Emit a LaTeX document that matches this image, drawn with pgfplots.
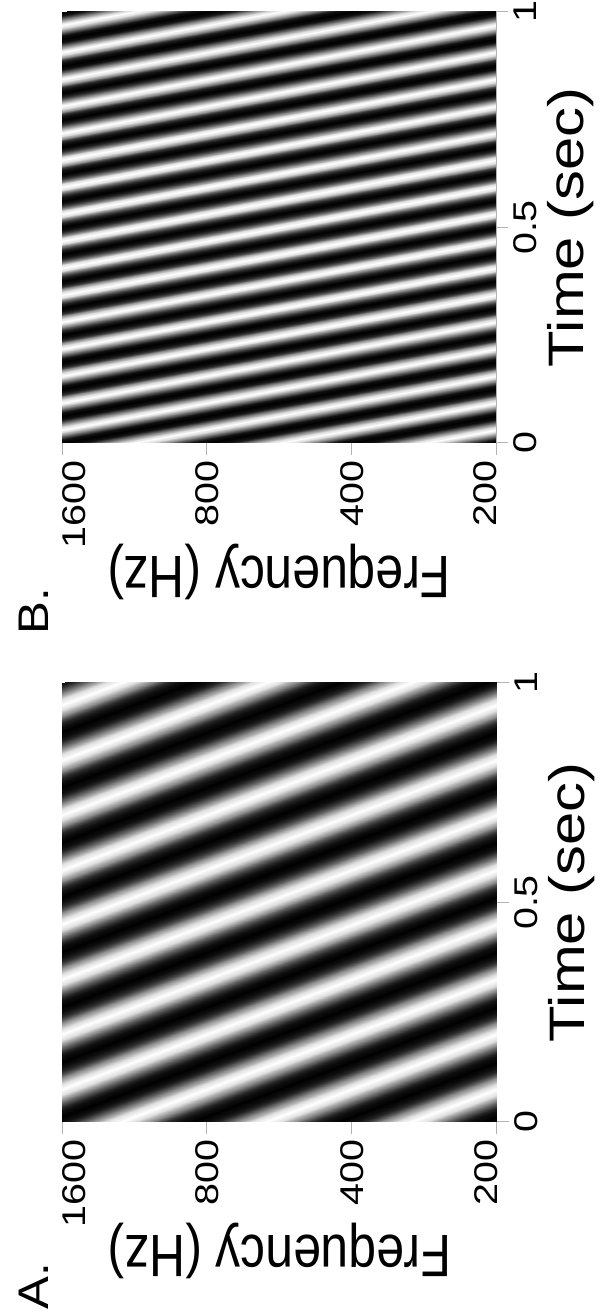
\documentclass[border=0pt]{standalone}
\usepackage{fontspec}
\setmainfont{Liberation Sans}
\usepackage{pgfplots}
\usepackage{pgfplotstable}
\pgfplotsset{compat=1.18}

% Panel A: lines of constant ripple phase (x = octave index from 1600 Hz, t = time, c = level)
\pgfplotstableread[row sep=\\]{
x t c \\
0 -0.375 -0.809 \\ 3 0 -0.809 \\
0 -0.3625 -1 \\ 3 0.0125 -1 \\
0 -0.35 -0.809 \\ 3 0.025 -0.809 \\
0 -0.3375 -0.309 \\ 3 0.0375 -0.309 \\
0 -0.325 0.309 \\ 3 0.05 0.309 \\
0 -0.3125 0.809 \\ 3 0.0625 0.809 \\
0 -0.3 1 \\ 3 0.075 1 \\
0 -0.2875 0.809 \\ 3 0.0875 0.809 \\
0 -0.275 0.309 \\ 3 0.1 0.309 \\
0 -0.2625 -0.309 \\ 3 0.1125 -0.309 \\
0 -0.25 -0.809 \\ 3 0.125 -0.809 \\
0 -0.2375 -1 \\ 3 0.1375 -1 \\
0 -0.225 -0.809 \\ 3 0.15 -0.809 \\
0 -0.2125 -0.309 \\ 3 0.1625 -0.309 \\
0 -0.2 0.309 \\ 3 0.175 0.309 \\
0 -0.1875 0.809 \\ 3 0.1875 0.809 \\
0 -0.175 1 \\ 3 0.2 1 \\
0 -0.1625 0.809 \\ 3 0.2125 0.809 \\
0 -0.15 0.309 \\ 3 0.225 0.309 \\
0 -0.1375 -0.309 \\ 3 0.2375 -0.309 \\
0 -0.125 -0.809 \\ 3 0.25 -0.809 \\
0 -0.1125 -1 \\ 3 0.2625 -1 \\
0 -0.1 -0.809 \\ 3 0.275 -0.809 \\
0 -0.0875 -0.309 \\ 3 0.2875 -0.309 \\
0 -0.075 0.309 \\ 3 0.3 0.309 \\
0 -0.0625 0.809 \\ 3 0.3125 0.809 \\
0 -0.05 1 \\ 3 0.325 1 \\
0 -0.0375 0.809 \\ 3 0.3375 0.809 \\
0 -0.025 0.309 \\ 3 0.35 0.309 \\
0 -0.0125 -0.309 \\ 3 0.3625 -0.309 \\
0 0 -0.809 \\ 3 0.375 -0.809 \\
0 0.0125 -1 \\ 3 0.3875 -1 \\
0 0.025 -0.809 \\ 3 0.4 -0.809 \\
0 0.0375 -0.309 \\ 3 0.4125 -0.309 \\
0 0.05 0.309 \\ 3 0.425 0.309 \\
0 0.0625 0.809 \\ 3 0.4375 0.809 \\
0 0.075 1 \\ 3 0.45 1 \\
0 0.0875 0.809 \\ 3 0.4625 0.809 \\
0 0.1 0.309 \\ 3 0.475 0.309 \\
0 0.1125 -0.309 \\ 3 0.4875 -0.309 \\
0 0.125 -0.809 \\ 3 0.5 -0.809 \\
0 0.1375 -1 \\ 3 0.5125 -1 \\
0 0.15 -0.809 \\ 3 0.525 -0.809 \\
0 0.1625 -0.309 \\ 3 0.5375 -0.309 \\
0 0.175 0.309 \\ 3 0.55 0.309 \\
0 0.1875 0.809 \\ 3 0.5625 0.809 \\
0 0.2 1 \\ 3 0.575 1 \\
0 0.2125 0.809 \\ 3 0.5875 0.809 \\
0 0.225 0.309 \\ 3 0.6 0.309 \\
0 0.2375 -0.309 \\ 3 0.6125 -0.309 \\
0 0.25 -0.809 \\ 3 0.625 -0.809 \\
0 0.2625 -1 \\ 3 0.6375 -1 \\
0 0.275 -0.809 \\ 3 0.65 -0.809 \\
0 0.2875 -0.309 \\ 3 0.6625 -0.309 \\
0 0.3 0.309 \\ 3 0.675 0.309 \\
0 0.3125 0.809 \\ 3 0.6875 0.809 \\
0 0.325 1 \\ 3 0.7 1 \\
0 0.3375 0.809 \\ 3 0.7125 0.809 \\
0 0.35 0.309 \\ 3 0.725 0.309 \\
0 0.3625 -0.309 \\ 3 0.7375 -0.309 \\
0 0.375 -0.809 \\ 3 0.75 -0.809 \\
0 0.3875 -1 \\ 3 0.7625 -1 \\
0 0.4 -0.809 \\ 3 0.775 -0.809 \\
0 0.4125 -0.309 \\ 3 0.7875 -0.309 \\
0 0.425 0.309 \\ 3 0.8 0.309 \\
0 0.4375 0.809 \\ 3 0.8125 0.809 \\
0 0.45 1 \\ 3 0.825 1 \\
0 0.4625 0.809 \\ 3 0.8375 0.809 \\
0 0.475 0.309 \\ 3 0.85 0.309 \\
0 0.4875 -0.309 \\ 3 0.8625 -0.309 \\
0 0.5 -0.809 \\ 3 0.875 -0.809 \\
0 0.5125 -1 \\ 3 0.8875 -1 \\
0 0.525 -0.809 \\ 3 0.9 -0.809 \\
0 0.5375 -0.309 \\ 3 0.9125 -0.309 \\
0 0.55 0.309 \\ 3 0.925 0.309 \\
0 0.5625 0.809 \\ 3 0.9375 0.809 \\
0 0.575 1 \\ 3 0.95 1 \\
0 0.5875 0.809 \\ 3 0.9625 0.809 \\
0 0.6 0.309 \\ 3 0.975 0.309 \\
0 0.6125 -0.309 \\ 3 0.9875 -0.309 \\
0 0.625 -0.809 \\ 3 1 -0.809 \\
0 0.6375 -1 \\ 3 1.0125 -1 \\
0 0.65 -0.809 \\ 3 1.025 -0.809 \\
0 0.6625 -0.309 \\ 3 1.0375 -0.309 \\
0 0.675 0.309 \\ 3 1.05 0.309 \\
0 0.6875 0.809 \\ 3 1.0625 0.809 \\
0 0.7 1 \\ 3 1.075 1 \\
0 0.7125 0.809 \\ 3 1.0875 0.809 \\
0 0.725 0.309 \\ 3 1.1 0.309 \\
0 0.7375 -0.309 \\ 3 1.1125 -0.309 \\
0 0.75 -0.809 \\ 3 1.125 -0.809 \\
0 0.7625 -1 \\ 3 1.1375 -1 \\
0 0.775 -0.809 \\ 3 1.15 -0.809 \\
0 0.7875 -0.309 \\ 3 1.1625 -0.309 \\
0 0.8 0.309 \\ 3 1.175 0.309 \\
0 0.8125 0.809 \\ 3 1.1875 0.809 \\
0 0.825 1 \\ 3 1.2 1 \\
0 0.8375 0.809 \\ 3 1.2125 0.809 \\
0 0.85 0.309 \\ 3 1.225 0.309 \\
0 0.8625 -0.309 \\ 3 1.2375 -0.309 \\
0 0.875 -0.809 \\ 3 1.25 -0.809 \\
0 0.8875 -1 \\ 3 1.2625 -1 \\
0 0.9 -0.809 \\ 3 1.275 -0.809 \\
0 0.9125 -0.309 \\ 3 1.2875 -0.309 \\
0 0.925 0.309 \\ 3 1.3 0.309 \\
0 0.9375 0.809 \\ 3 1.3125 0.809 \\
0 0.95 1 \\ 3 1.325 1 \\
0 0.9625 0.809 \\ 3 1.3375 0.809 \\
0 0.975 0.309 \\ 3 1.35 0.309 \\
0 0.9875 -0.309 \\ 3 1.3625 -0.309 \\
0 1 -0.809 \\ 3 1.375 -0.809 \\
}\dataA

% Panel B
\pgfplotstableread[row sep=\\]{
x t c \\
0 -0.1875 -1 \\ 3 0 -1 \\
0 -0.18125 -0.809 \\ 3 0.00625 -0.809 \\
0 -0.175 -0.309 \\ 3 0.0125 -0.309 \\
0 -0.16875 0.309 \\ 3 0.01875 0.309 \\
0 -0.1625 0.809 \\ 3 0.025 0.809 \\
0 -0.15625 1 \\ 3 0.03125 1 \\
0 -0.15 0.809 \\ 3 0.0375 0.809 \\
0 -0.14375 0.309 \\ 3 0.04375 0.309 \\
0 -0.1375 -0.309 \\ 3 0.05 -0.309 \\
0 -0.13125 -0.809 \\ 3 0.05625 -0.809 \\
0 -0.125 -1 \\ 3 0.0625 -1 \\
0 -0.11875 -0.809 \\ 3 0.06875 -0.809 \\
0 -0.1125 -0.309 \\ 3 0.075 -0.309 \\
0 -0.10625 0.309 \\ 3 0.08125 0.309 \\
0 -0.1 0.809 \\ 3 0.0875 0.809 \\
0 -0.09375 1 \\ 3 0.09375 1 \\
0 -0.0875 0.809 \\ 3 0.1 0.809 \\
0 -0.08125 0.309 \\ 3 0.10625 0.309 \\
0 -0.075 -0.309 \\ 3 0.1125 -0.309 \\
0 -0.06875 -0.809 \\ 3 0.11875 -0.809 \\
0 -0.0625 -1 \\ 3 0.125 -1 \\
0 -0.05625 -0.809 \\ 3 0.13125 -0.809 \\
0 -0.05 -0.309 \\ 3 0.1375 -0.309 \\
0 -0.04375 0.309 \\ 3 0.14375 0.309 \\
0 -0.0375 0.809 \\ 3 0.15 0.809 \\
0 -0.03125 1 \\ 3 0.15625 1 \\
0 -0.025 0.809 \\ 3 0.1625 0.809 \\
0 -0.01875 0.309 \\ 3 0.16875 0.309 \\
0 -0.0125 -0.309 \\ 3 0.175 -0.309 \\
0 -0.00625 -0.809 \\ 3 0.18125 -0.809 \\
0 0 -1 \\ 3 0.1875 -1 \\
0 0.00625 -0.809 \\ 3 0.19375 -0.809 \\
0 0.0125 -0.309 \\ 3 0.2 -0.309 \\
0 0.01875 0.309 \\ 3 0.20625 0.309 \\
0 0.025 0.809 \\ 3 0.2125 0.809 \\
0 0.03125 1 \\ 3 0.21875 1 \\
0 0.0375 0.809 \\ 3 0.225 0.809 \\
0 0.04375 0.309 \\ 3 0.23125 0.309 \\
0 0.05 -0.309 \\ 3 0.2375 -0.309 \\
0 0.05625 -0.809 \\ 3 0.24375 -0.809 \\
0 0.0625 -1 \\ 3 0.25 -1 \\
0 0.06875 -0.809 \\ 3 0.25625 -0.809 \\
0 0.075 -0.309 \\ 3 0.2625 -0.309 \\
0 0.08125 0.309 \\ 3 0.26875 0.309 \\
0 0.0875 0.809 \\ 3 0.275 0.809 \\
0 0.09375 1 \\ 3 0.28125 1 \\
0 0.1 0.809 \\ 3 0.2875 0.809 \\
0 0.10625 0.309 \\ 3 0.29375 0.309 \\
0 0.1125 -0.309 \\ 3 0.3 -0.309 \\
0 0.11875 -0.809 \\ 3 0.30625 -0.809 \\
0 0.125 -1 \\ 3 0.3125 -1 \\
0 0.13125 -0.809 \\ 3 0.31875 -0.809 \\
0 0.1375 -0.309 \\ 3 0.325 -0.309 \\
0 0.14375 0.309 \\ 3 0.33125 0.309 \\
0 0.15 0.809 \\ 3 0.3375 0.809 \\
0 0.15625 1 \\ 3 0.34375 1 \\
0 0.1625 0.809 \\ 3 0.35 0.809 \\
0 0.16875 0.309 \\ 3 0.35625 0.309 \\
0 0.175 -0.309 \\ 3 0.3625 -0.309 \\
0 0.18125 -0.809 \\ 3 0.36875 -0.809 \\
0 0.1875 -1 \\ 3 0.375 -1 \\
0 0.19375 -0.809 \\ 3 0.38125 -0.809 \\
0 0.2 -0.309 \\ 3 0.3875 -0.309 \\
0 0.20625 0.309 \\ 3 0.39375 0.309 \\
0 0.2125 0.809 \\ 3 0.4 0.809 \\
0 0.21875 1 \\ 3 0.40625 1 \\
0 0.225 0.809 \\ 3 0.4125 0.809 \\
0 0.23125 0.309 \\ 3 0.41875 0.309 \\
0 0.2375 -0.309 \\ 3 0.425 -0.309 \\
0 0.24375 -0.809 \\ 3 0.43125 -0.809 \\
0 0.25 -1 \\ 3 0.4375 -1 \\
0 0.25625 -0.809 \\ 3 0.44375 -0.809 \\
0 0.2625 -0.309 \\ 3 0.45 -0.309 \\
0 0.26875 0.309 \\ 3 0.45625 0.309 \\
0 0.275 0.809 \\ 3 0.4625 0.809 \\
0 0.28125 1 \\ 3 0.46875 1 \\
0 0.2875 0.809 \\ 3 0.475 0.809 \\
0 0.29375 0.309 \\ 3 0.48125 0.309 \\
0 0.3 -0.309 \\ 3 0.4875 -0.309 \\
0 0.30625 -0.809 \\ 3 0.49375 -0.809 \\
0 0.3125 -1 \\ 3 0.5 -1 \\
0 0.31875 -0.809 \\ 3 0.50625 -0.809 \\
0 0.325 -0.309 \\ 3 0.5125 -0.309 \\
0 0.33125 0.309 \\ 3 0.51875 0.309 \\
0 0.3375 0.809 \\ 3 0.525 0.809 \\
0 0.34375 1 \\ 3 0.53125 1 \\
0 0.35 0.809 \\ 3 0.5375 0.809 \\
0 0.35625 0.309 \\ 3 0.54375 0.309 \\
0 0.3625 -0.309 \\ 3 0.55 -0.309 \\
0 0.36875 -0.809 \\ 3 0.55625 -0.809 \\
0 0.375 -1 \\ 3 0.5625 -1 \\
0 0.38125 -0.809 \\ 3 0.56875 -0.809 \\
0 0.3875 -0.309 \\ 3 0.575 -0.309 \\
0 0.39375 0.309 \\ 3 0.58125 0.309 \\
0 0.4 0.809 \\ 3 0.5875 0.809 \\
0 0.40625 1 \\ 3 0.59375 1 \\
0 0.4125 0.809 \\ 3 0.6 0.809 \\
0 0.41875 0.309 \\ 3 0.60625 0.309 \\
0 0.425 -0.309 \\ 3 0.6125 -0.309 \\
0 0.43125 -0.809 \\ 3 0.61875 -0.809 \\
0 0.4375 -1 \\ 3 0.625 -1 \\
0 0.44375 -0.809 \\ 3 0.63125 -0.809 \\
0 0.45 -0.309 \\ 3 0.6375 -0.309 \\
0 0.45625 0.309 \\ 3 0.64375 0.309 \\
0 0.4625 0.809 \\ 3 0.65 0.809 \\
0 0.46875 1 \\ 3 0.65625 1 \\
0 0.475 0.809 \\ 3 0.6625 0.809 \\
0 0.48125 0.309 \\ 3 0.66875 0.309 \\
0 0.4875 -0.309 \\ 3 0.675 -0.309 \\
0 0.49375 -0.809 \\ 3 0.68125 -0.809 \\
0 0.5 -1 \\ 3 0.6875 -1 \\
0 0.50625 -0.809 \\ 3 0.69375 -0.809 \\
0 0.5125 -0.309 \\ 3 0.7 -0.309 \\
0 0.51875 0.309 \\ 3 0.70625 0.309 \\
0 0.525 0.809 \\ 3 0.7125 0.809 \\
0 0.53125 1 \\ 3 0.71875 1 \\
0 0.5375 0.809 \\ 3 0.725 0.809 \\
0 0.54375 0.309 \\ 3 0.73125 0.309 \\
0 0.55 -0.309 \\ 3 0.7375 -0.309 \\
0 0.55625 -0.809 \\ 3 0.74375 -0.809 \\
0 0.5625 -1 \\ 3 0.75 -1 \\
0 0.56875 -0.809 \\ 3 0.75625 -0.809 \\
0 0.575 -0.309 \\ 3 0.7625 -0.309 \\
0 0.58125 0.309 \\ 3 0.76875 0.309 \\
0 0.5875 0.809 \\ 3 0.775 0.809 \\
0 0.59375 1 \\ 3 0.78125 1 \\
0 0.6 0.809 \\ 3 0.7875 0.809 \\
0 0.60625 0.309 \\ 3 0.79375 0.309 \\
0 0.6125 -0.309 \\ 3 0.8 -0.309 \\
0 0.61875 -0.809 \\ 3 0.80625 -0.809 \\
0 0.625 -1 \\ 3 0.8125 -1 \\
0 0.63125 -0.809 \\ 3 0.81875 -0.809 \\
0 0.6375 -0.309 \\ 3 0.825 -0.309 \\
0 0.64375 0.309 \\ 3 0.83125 0.309 \\
0 0.65 0.809 \\ 3 0.8375 0.809 \\
0 0.65625 1 \\ 3 0.84375 1 \\
0 0.6625 0.809 \\ 3 0.85 0.809 \\
0 0.66875 0.309 \\ 3 0.85625 0.309 \\
0 0.675 -0.309 \\ 3 0.8625 -0.309 \\
0 0.68125 -0.809 \\ 3 0.86875 -0.809 \\
0 0.6875 -1 \\ 3 0.875 -1 \\
0 0.69375 -0.809 \\ 3 0.88125 -0.809 \\
0 0.7 -0.309 \\ 3 0.8875 -0.309 \\
0 0.70625 0.309 \\ 3 0.89375 0.309 \\
0 0.7125 0.809 \\ 3 0.9 0.809 \\
0 0.71875 1 \\ 3 0.90625 1 \\
0 0.725 0.809 \\ 3 0.9125 0.809 \\
0 0.73125 0.309 \\ 3 0.91875 0.309 \\
0 0.7375 -0.309 \\ 3 0.925 -0.309 \\
0 0.74375 -0.809 \\ 3 0.93125 -0.809 \\
0 0.75 -1 \\ 3 0.9375 -1 \\
0 0.75625 -0.809 \\ 3 0.94375 -0.809 \\
0 0.7625 -0.309 \\ 3 0.95 -0.309 \\
0 0.76875 0.309 \\ 3 0.95625 0.309 \\
0 0.775 0.809 \\ 3 0.9625 0.809 \\
0 0.78125 1 \\ 3 0.96875 1 \\
0 0.7875 0.809 \\ 3 0.975 0.809 \\
0 0.79375 0.309 \\ 3 0.98125 0.309 \\
0 0.8 -0.309 \\ 3 0.9875 -0.309 \\
0 0.80625 -0.809 \\ 3 0.99375 -0.809 \\
0 0.8125 -1 \\ 3 1 -1 \\
0 0.81875 -0.809 \\ 3 1.00625 -0.809 \\
0 0.825 -0.309 \\ 3 1.0125 -0.309 \\
0 0.83125 0.309 \\ 3 1.01875 0.309 \\
0 0.8375 0.809 \\ 3 1.025 0.809 \\
0 0.84375 1 \\ 3 1.03125 1 \\
0 0.85 0.809 \\ 3 1.0375 0.809 \\
0 0.85625 0.309 \\ 3 1.04375 0.309 \\
0 0.8625 -0.309 \\ 3 1.05 -0.309 \\
0 0.86875 -0.809 \\ 3 1.05625 -0.809 \\
0 0.875 -1 \\ 3 1.0625 -1 \\
0 0.88125 -0.809 \\ 3 1.06875 -0.809 \\
0 0.8875 -0.309 \\ 3 1.075 -0.309 \\
0 0.89375 0.309 \\ 3 1.08125 0.309 \\
0 0.9 0.809 \\ 3 1.0875 0.809 \\
0 0.90625 1 \\ 3 1.09375 1 \\
0 0.9125 0.809 \\ 3 1.1 0.809 \\
0 0.91875 0.309 \\ 3 1.10625 0.309 \\
0 0.925 -0.309 \\ 3 1.1125 -0.309 \\
0 0.93125 -0.809 \\ 3 1.11875 -0.809 \\
0 0.9375 -1 \\ 3 1.125 -1 \\
0 0.94375 -0.809 \\ 3 1.13125 -0.809 \\
0 0.95 -0.309 \\ 3 1.1375 -0.309 \\
0 0.95625 0.309 \\ 3 1.14375 0.309 \\
0 0.9625 0.809 \\ 3 1.15 0.809 \\
0 0.96875 1 \\ 3 1.15625 1 \\
0 0.975 0.809 \\ 3 1.1625 0.809 \\
0 0.98125 0.309 \\ 3 1.16875 0.309 \\
0 0.9875 -0.309 \\ 3 1.175 -0.309 \\
0 0.99375 -0.809 \\ 3 1.18125 -0.809 \\
0 1 -1 \\ 3 1.1875 -1 \\
}\dataB

\pgfplotsset{
  ripple/.style={
    scale only axis,
    xmin=0, xmax=3, ymin=0, ymax=1,
    xtick={0,1,2,3},
    xticklabels={{\raisebox{-5.7bp}{\scalebox{1.2}[1]{1600}}},{\scalebox{1.2}[1]{800}},{\scalebox{1.2}[1]{400}},{\raisebox{5.7bp}{\scalebox{1.2}[1]{200}}}},
    ytick={0,0.5,1},
    yticklabels={{\scalebox{1.2}[1]{0}},{\scalebox{1.2}[1]{0.5}},{\scalebox{1.2}[1]{1}}},
    axis x line=bottom, axis y line=right,
    axis line style={draw=gray!60, line width=0.5bp, -},
    tick style={draw=gray!60, line width=0.5bp},
    tick align=outside,
    major tick length=6bp,
    tick label style={font=\fontsize{16.5}{16.5}\selectfont},
    xticklabel style={rotate=90, anchor=east, text height=11.8bp, text depth=0pt, inner sep=2.5bp},
    yticklabel style={rotate=90, anchor=north, inner sep=2.5bp},
    label style={font=\fontsize{25}{25}\selectfont},
    xlabel={\scalebox{1}[1.2]{Frequency (Hz)}},
    ylabel={\scalebox{1.2}[1]{Time (sec)}},
    xlabel style={at={(rel axis cs:0.5,0)}, rotate=180, anchor=center, yshift=64.5bp, inner sep=0pt},
    ylabel style={at={(rel axis cs:1,0.5)}, anchor=center, yshift=-37.5bp, inner sep=0pt},
    colormap={ripplegray}{gray(0cm)=(0); gray(1cm)=(0.14); gray(2cm)=(0.38); gray(3cm)=(0.67); gray(4cm)=(1)},
    point meta min=-1, point meta max=1,
    /pgf/number format/assume math mode=true,
  },
}

\begin{document}
\begin{tikzpicture}
\useasboundingbox (0,0) rectangle (301.5bp,656bp);
\begin{axis}[ripple, name=A, at={(31bp,95bp)}, anchor=south west, width=217.5bp, height=219.5bp]
\addplot[surf, shader=interp, mesh/cols=2, point meta=explicit] table[x=x, y=t, meta=c] {\dataA};
\end{axis}
\begin{axis}[ripple, name=B, at={(31bp,434.5bp)}, anchor=south west, width=217bp, height=215.5bp]
\addplot[surf, shader=interp, mesh/cols=2, point meta=explicit] table[x=x, y=t, meta=c] {\dataB};
\end{axis}
\node[rotate=90, font=\fontsize{21.5}{21.5}\selectfont, inner sep=0pt] at ([shift={(-14bp,-82bp)}]A.south west) {\scalebox{1.15}[1]{A.}};
\node[rotate=90, font=\fontsize{21.5}{21.5}\selectfont, inner sep=0pt] at ([shift={(-14bp,-84bp)}]B.south west) {\scalebox{1.15}[1]{B.}};
\end{tikzpicture}
\end{document}
